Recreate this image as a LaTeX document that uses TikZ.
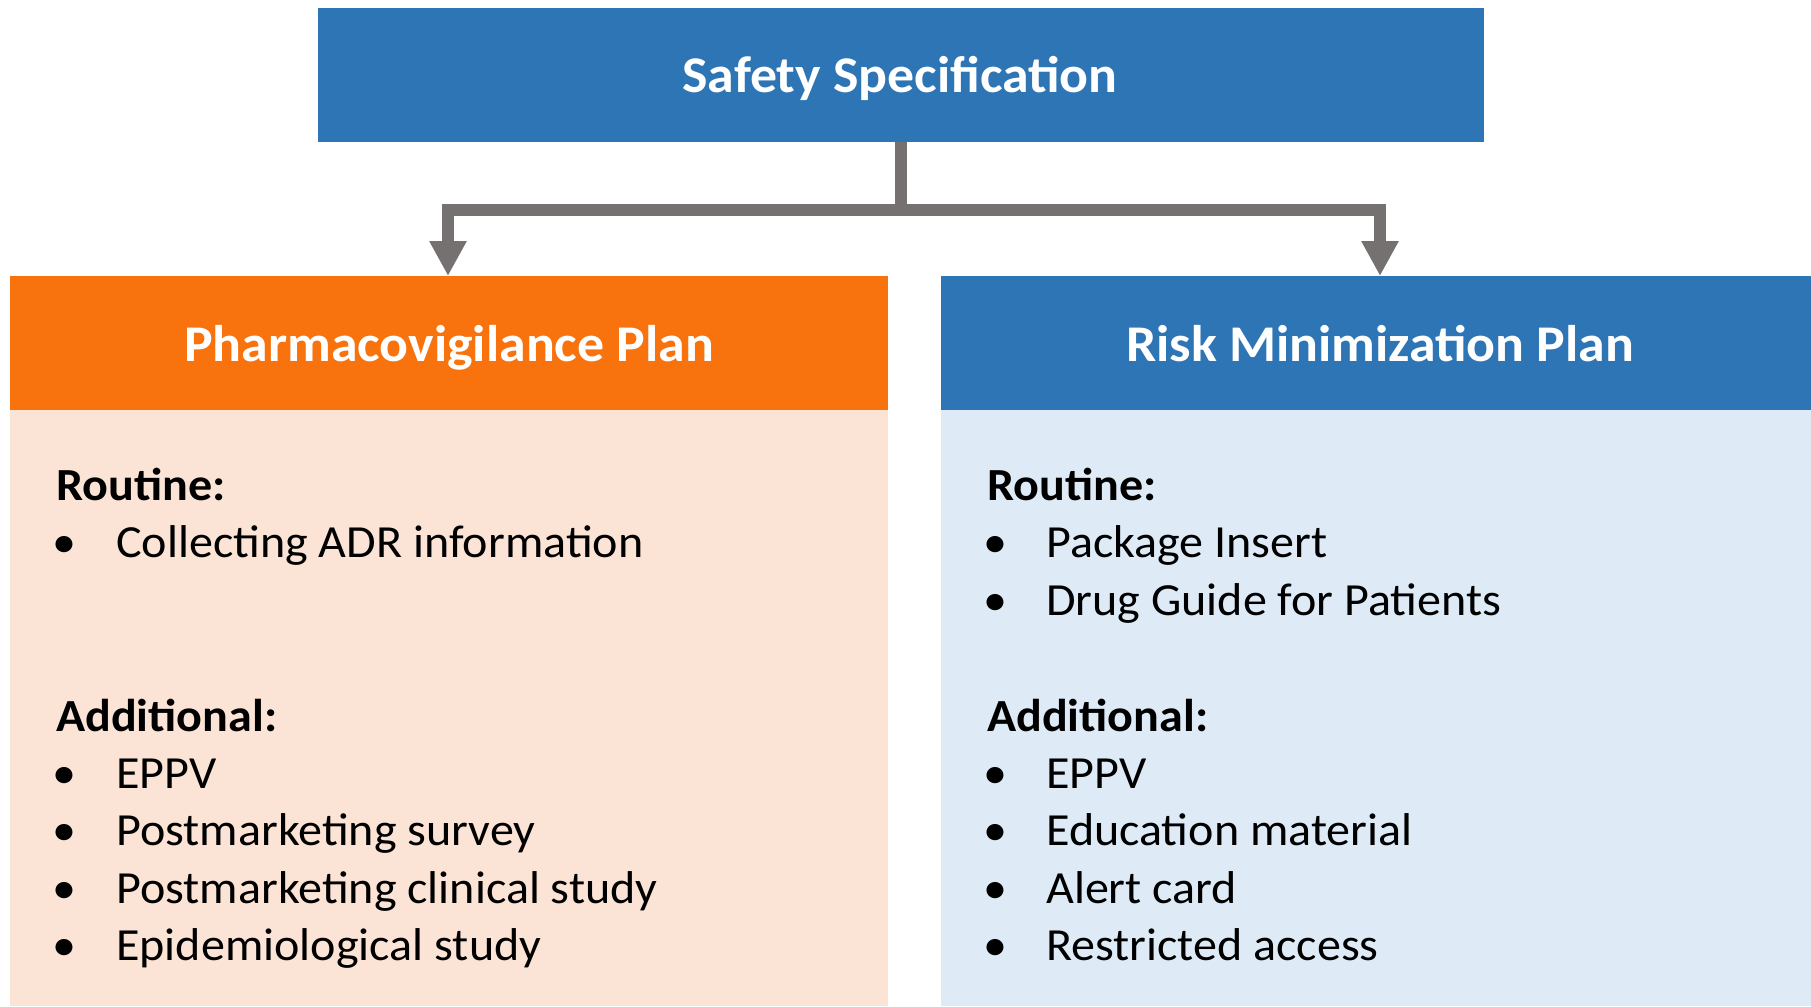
\documentclass[tikz,border=0pt]{standalone}
\usepackage{fontspec}
\setmainfont{Carlito}[FakeStretch=1.045]
\usetikzlibrary{arrows.meta}
\definecolor{hdrblue}{HTML}{2E75B6}
\definecolor{hdrorange}{HTML}{F8720D}
\definecolor{peach}{HTML}{FBE3D6}
\definecolor{lightblue}{HTML}{DEEBF7}
\definecolor{conngray}{HTML}{767171}
\tikzset{
  box/.style={rectangle, draw=none, inner sep=0pt, outer sep=0pt},
  hdrtext/.style={inner sep=0pt, anchor=base, text=white, font=\fontsize{51.5}{60}\selectfont\bfseries},
  bodytext/.style={inner sep=0pt, anchor=base west, text=black, font=\fontsize{46}{54}\selectfont},
  bodyhead/.style={bodytext, font=\fontsize{46}{54}\selectfont\bfseries},
  conn/.style={draw=conngray, line width=12pt, -{Triangle[length=35pt,width=35pt]}}
}
\begin{document}
\begin{tikzpicture}[x=1pt,y=-1pt]
\useasboundingbox (0,0) rectangle (1811,1006);
% boxes
\node[box, fill=hdrblue, minimum width=1166pt, minimum height=134pt] (top) at (901,75) {};
\node[box, fill=hdrorange, minimum width=878pt, minimum height=134pt] (pv) at (449,343) {};
\node[box, fill=peach, minimum width=878pt, minimum height=596pt] (pvbody) at (449,708) {};
\node[box, fill=hdrblue, minimum width=870pt, minimum height=134pt] (rm) at (1376,343) {};
\node[box, fill=lightblue, minimum width=870pt, minimum height=596pt] (rmbody) at (1376,708) {};
% titles
\node[hdrtext] (toptext) at (900,93) {Safety Specification};
\node[hdrtext] (pvtext) at (449,361) {Pharmacovigilance Plan};
\node[hdrtext] (rmtext) at (1380,361) {Risk Minimization Plan};
% connectors
\coordinate (split) at (901,209.5);
\draw[conn] (top.south) -- (split) -| ([xshift=-1pt]pv.north);
\draw[conn] (split) -| ([xshift=4pt]rm.north);
% left body
\node[bodyhead] (lr) at (56,500) {Routine:};
\node[bodytext] (lb1) at (52,557) {•};
\node[bodytext] (lt1) at (116,557) {Collecting ADR information};
\node[bodyhead] (la) at (56,731) {Additional:};
\node[bodytext] (lb2) at (52,788) {•};
\node[bodytext] (lt2) at (116,788) {EPPV};
\node[bodytext] (lb3) at (52,845) {•};
\node[bodytext] (lt3) at (116,845) {Postmarketing survey};
\node[bodytext] (lb4) at (52,903) {•};
\node[bodytext] (lt4) at (116,903) {Postmarketing clinical study};
\node[bodytext] (lb5) at (52,960) {•};
\node[bodytext] (lt5) at (116,960) {Epidemiological study};
% right body
\node[bodyhead] (rr) at (987,500) {Routine:};
\node[bodytext] (rb1) at (983,557) {•};
\node[bodytext] (rt1) at (1046,557) {Package Insert};
\node[bodytext] (rb2) at (983,615) {•};
\node[bodytext] (rt2) at (1046,615) {Drug Guide for Patients};
\node[bodyhead] (ra) at (987,731) {Additional:};
\node[bodytext] (rb3) at (983,788) {•};
\node[bodytext] (rt3) at (1046,788) {EPPV};
\node[bodytext] (rb4) at (983,845) {•};
\node[bodytext] (rt4) at (1046,845) {Education material};
\node[bodytext] (rb5) at (983,903) {•};
\node[bodytext] (rt5) at (1046,903) {Alert card};
\node[bodytext] (rb6) at (983,960) {•};
\node[bodytext] (rt6) at (1046,960) {Restricted access};
\end{tikzpicture}
\end{document}
